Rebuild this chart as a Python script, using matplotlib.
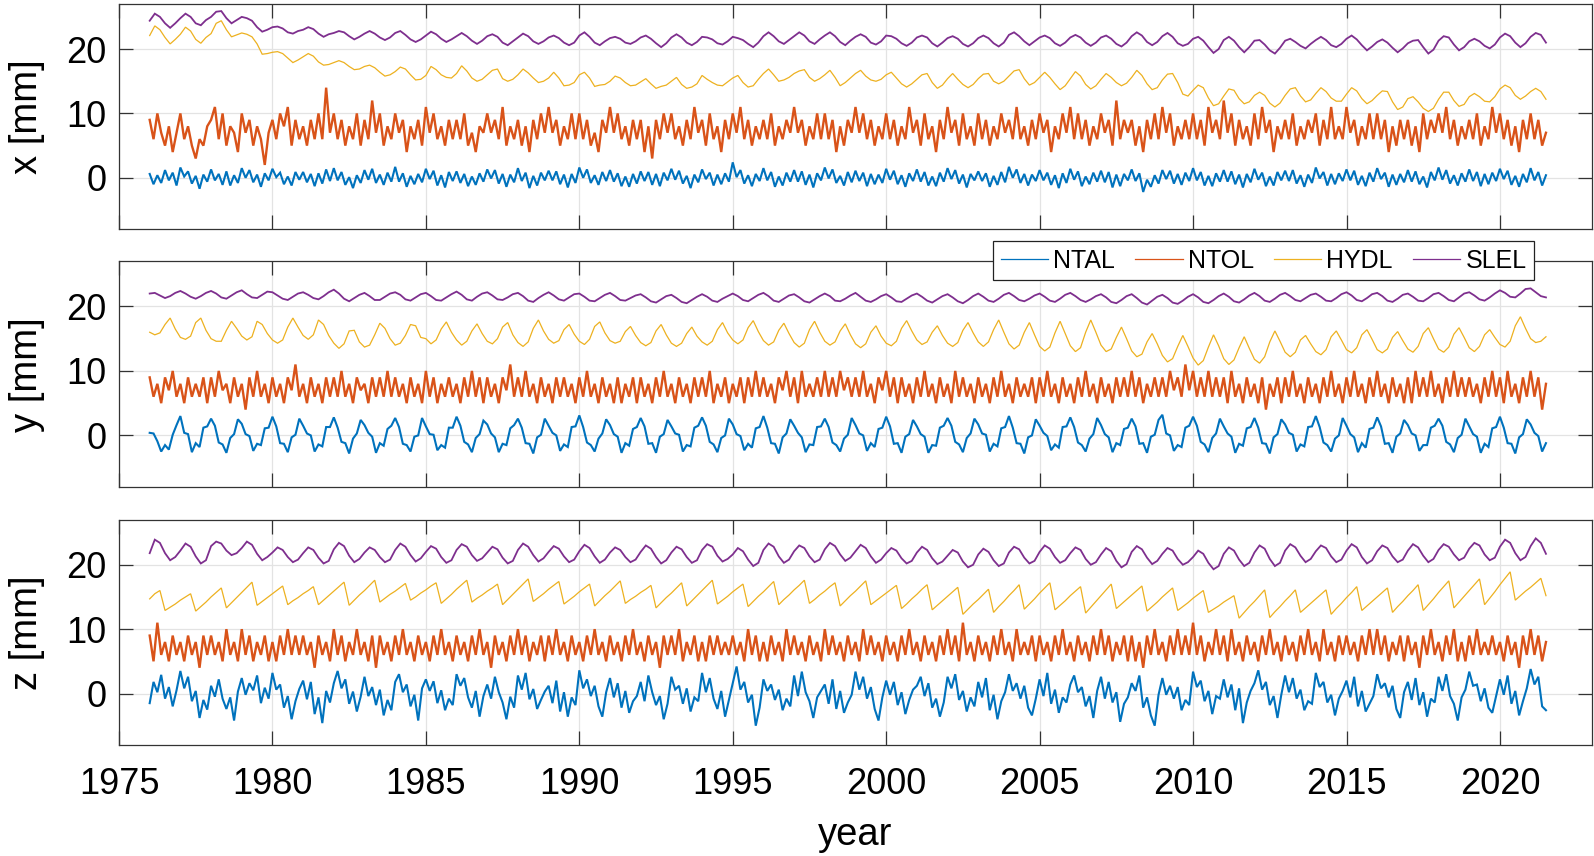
import numpy as np
import matplotlib
matplotlib.use("Agg")
import matplotlib.pyplot as plt
from matplotlib.lines import Line2D

plt.rcParams['font.family'] = ['Liberation Sans', 'DejaVu Sans']


def _vals(s):
    return np.array(s.split(), dtype=float)


# ---------------- data (mm) ----------------
SERIES = ["NTAL", "NTOL", "HYDL", "SLEL"]
COMPONENTS = ["x", "y", "z"]
START_YEAR = 1976.0
NOISY_PER_YEAR = 8      # NTAL / NTOL samples per year
SMOOTH_PER_YEAR = 6     # HYDL / SLEL samples per year
YEAR_TICKS = [1975, 1980, 1985, 1990, 1995, 2000, 2005, 2010, 2015, 2020]
MM_TICKS = [0, 10, 20]

NTAL_X = _vals("""
0.6 -1.0 0.4 -0.8 1.2 -0.4 0.8 -1.2
1.6 0.2 1.0 -0.9 0.3 -1.7 0.5 -0.6
1.3 -0.4 0.6 -1.1 1.0 -1.2 0.4 -0.8
1.5 0.0 1.2 -0.7 0.5 -1.4 0.7 -0.4
1.4 0.1 0.8 -1.0 0.2 -1.2 0.9 -0.3
0.9 -0.7 0.6 -1.3 0.7 -0.9 1.3 -0.5
1.5 -0.4 0.9 -1.1 0.1 -1.6 0.4 -0.8
1.2 -0.3 1.4 -0.8 0.5 -1.1 0.8 -0.6
1.7 -0.6 0.7 -1.4 0.3 -1.0 0.6 -0.7
1.4 -0.2 1.1 -1.2 0.4 -1.5 0.9 -0.5
1.0 -0.8 0.6 -1.3 0.2 -1.1 0.7 -0.6
1.3 -0.1 1.2 -0.9 0.6 -1.4 0.5 -0.7
1.5 -0.5 0.8 -1.6 0.3 -1.2 0.8 -0.4
1.1 -0.4 1.0 -1.0 0.5 -1.5 0.6 -0.8
1.6 0.0 1.3 -0.8 0.4 -1.1 0.9 -0.5
1.2 -0.6 0.7 -1.3 0.2 -1.4 0.6 -0.9
1.0 -0.5 0.9 -1.1 0.6 -1.3 0.8 -0.4
1.4 -0.3 1.1 -0.9 0.3 -1.6 0.5 -0.7
1.3 -0.2 0.8 -1.2 0.5 -1.0 0.7 -0.6
2.4 0.1 1.2 -0.9 0.4 -1.3 0.6 -0.5
1.5 -0.4 0.9 -1.4 0.2 -1.2 0.8 -0.6
1.2 -0.6 1.0 -1.1 0.5 -1.5 0.7 -0.4
1.6 -0.1 1.3 -0.8 0.3 -1.2 0.9 -0.7
1.1 -0.5 0.8 -1.3 0.6 -1.0 0.5 -0.8
1.4 -0.3 1.1 -1.0 0.4 -1.4 0.7 -0.5
1.3 -0.6 0.9 -1.2 0.2 -1.3 0.8 -0.6
1.5 -0.2 1.2 -0.9 0.5 -1.5 0.6 -0.4
1.0 -0.5 0.7 -1.4 0.3 -1.1 0.9 -0.7
1.7 0.0 1.3 -0.8 0.6 -1.2 0.5 -0.5
1.2 -0.4 0.8 -1.1 0.4 -1.6 0.7 -0.8
1.4 -0.3 1.0 -1.3 0.2 -1.0 0.8 -0.6
1.1 -0.7 0.9 -1.5 0.5 -1.3 0.6 -0.4
1.3 -0.5 0.7 -2.2 -0.3 -1.4 0.4 -0.9
1.2 -0.2 1.1 -0.9 0.6 -1.1 0.8 -0.5
1.5 -0.4 0.9 -1.2 0.3 -1.3 0.7 -0.6
1.2 -0.6 1.0 -1.0 0.5 -1.5 0.6 -0.7
1.4 -0.3 0.8 -1.3 0.2 -1.2 0.9 -0.4
1.1 -0.5 1.2 -0.9 0.4 -1.4 0.5 -0.8
1.6 -0.1 0.9 -1.2 0.6 -1.0 0.7 -0.5
1.3 -0.4 1.1 -1.1 0.3 -1.3 0.8 -0.6
1.5 -0.2 0.8 -1.4 0.5 -1.1 0.6 -0.7
1.2 -0.6 1.0 -1.0 0.2 -1.5 0.9 -0.4
1.6 -0.3 1.2 -0.9 0.4 -1.2 0.7 -0.6
1.3 -0.5 0.9 -1.3 0.6 -1.0 0.8 -0.5
1.4 -0.2 1.1 -1.1 0.3 -1.4 0.6 -0.7
1.5 -0.4 0.9 -1.2 0.4
""")

NTOL_X = _vals("""
9 6 10 7 5 8 4 7
10 6 8 5 3 6 5 8
9 11 6 10 5 8 7 4
10 7 9 5 8 6 2 7
9 6 10 8 11 5 9 6
8 5 9 6 10 6 14 7
10 6 9 5 8 6 10 5
9 6 12 7 10 5 8 6
10 7 9 4 8 6 9 5
11 7 10 6 8 5 9 6
9 6 10 5 7 4 8 7
10 7 9 6 11 5 8 6
9 5 8 4 9 6 10 7
11 7 9 5 8 6 10 6
10 6 9 5 7 4 9 7
11 7 10 6 8 5 9 6
9 4 8 3 9 6 10 7
10 6 8 5 9 6 11 7
9 5 10 6 8 4 9 6
10 7 11 6 9 5 8 6
9 6 10 5 8 6 9 7
11 7 9 5 8 6 10 6
10 6 9 4 8 5 9 7
11 7 10 6 9 5 8 6
10 6 9 5 8 6 11 7
9 5 10 6 8 4 9 6
11 7 9 5 10 6 8 5
10 6 9 5 8 6 10 7
9 6 11 6 8 5 9 6
10 7 9 4 8 6 10 7
11 6 10 6 9 5 8 6
10 7 9 5 12 6 9 7
9 5 8 4 9 6 10 6
11 7 10 5 8 6 9 6
10 6 9 5 11 7 9 6
12 7 10 5 9 6 8 5
10 6 11 7 9 4 8 6
9 6 10 5 8 6 9 7
10 5 9 6 11 6 8 6
11 7 9 5 8 6 10 6
10 6 9 4 8 5 9 6
9 5 8 4 10 6 9 7
10 7 11 6 9 5 8 6
9 6 10 5 8 6 11 7
10 6 9 5 8 4 9 6
10 6 9 5 7
""")

HYDL_X = _vals("""
22.1 23.6 23.0 21.8 20.8 21.5
22.3 23.4 22.8 21.5 20.9 21.8
22.4 24.0 24.4 23.0 21.9 22.2
22.5 22.3 21.9 20.8 19.2 19.3
19.5 19.6 19.3 18.6 17.9 18.3
18.8 19.3 18.9 18.0 17.5 17.6
17.9 18.2 17.9 17.3 16.8 16.9
17.3 17.5 17.1 16.4 15.8 16.0
16.5 17.2 16.9 16.0 15.2 15.3
15.9 17.3 16.8 16.0 15.6 15.5
16.2 17.4 16.6 15.5 15.0 15.3
16.0 16.7 16.9 15.4 15.0 15.3
16.0 16.9 16.3 15.5 14.8 15.0
15.5 16.4 15.5 14.3 14.4 14.8
16.0 16.4 15.5 14.2 14.4 14.5
15.0 15.8 15.5 14.8 14.3 14.4
14.9 15.4 14.6 13.9 14.2 14.4
15.0 15.6 14.5 13.9 14.1 14.6
15.9 15.3 14.8 14.4 14.3 14.9
15.5 15.9 14.8 14.1 14.3 15.3
16.2 16.9 16.0 15.0 15.2 15.6
16.2 16.6 16.8 15.6 15.0 15.4
16.0 16.7 15.6 14.3 14.8 15.5
16.2 16.7 15.8 15.2 15.0 15.3
16.0 16.4 15.5 14.6 14.1 14.6
15.3 16.0 16.2 14.8 13.9 14.4
15.4 16.2 15.3 14.5 14.0 14.5
15.4 16.1 16.2 15.0 14.6 15.0
15.8 16.6 16.8 15.4 14.4 14.8
15.6 16.4 15.6 14.6 13.7 14.3
15.4 16.5 15.8 14.5 13.8 14.3
15.3 16.2 15.6 14.8 14.3 14.7
15.6 16.7 15.9 14.6 13.7 14.0
15.2 16.1 16.2 14.8 13.0 12.7
13.6 14.4 14.0 12.4 11.2 11.5
12.7 13.8 13.6 12.3 11.5 11.8
12.8 13.3 12.8 11.6 11.0 11.6
12.8 13.8 14.0 12.7 11.8 12.1
13.1 14.0 13.4 12.4 11.9 11.9
13.0 14.0 13.5 12.3 11.5 12.0
12.8 13.5 13.4 11.8 10.6 11.0
12.3 12.6 11.8 10.8 10.3 10.8
12.2 13.3 13.3 12.0 11.1 11.4
12.6 13.1 12.6 11.9 11.8 12.6
13.8 14.4 14.0 12.8 12.2 12.7
13.4 13.9 13.4 12.2
""")

SLEL_X = _vals("""
24.4 25.5 25.0 24.0 23.3 24.0
24.8 25.5 25.0 24.0 23.7 24.5
25.0 25.8 25.9 24.8 24.0 24.5
25.0 24.8 24.4 23.4 22.7 23.0
23.4 23.5 23.2 22.6 22.4 22.8
23.0 23.4 23.1 22.4 21.9 22.3
22.5 22.8 22.6 22.0 21.5 21.9
22.4 22.8 22.4 21.8 21.4 21.8
22.5 22.8 22.2 21.5 21.1 21.5
22.1 22.7 22.3 21.6 21.1 21.5
22.0 22.5 22.0 21.3 20.8 21.3
22.0 22.3 21.9 21.0 20.6 21.2
21.8 22.4 22.0 21.2 20.8 21.2
21.8 22.1 21.7 21.0 20.6 21.0
22.1 22.6 21.9 21.0 20.6 21.2
21.7 21.9 21.6 21.0 20.8 21.2
21.8 22.1 21.6 20.9 20.3 20.9
21.8 22.3 21.8 21.0 20.6 21.1
21.9 21.8 21.5 20.9 20.7 21.2
21.9 21.7 21.4 20.8 20.3 21.0
22.0 22.6 22.0 21.2 20.8 21.4
22.0 22.6 22.1 21.2 20.8 21.5
22.1 22.6 22.0 21.1 20.6 21.3
21.9 22.3 21.9 21.0 20.7 21.2
22.1 22.0 21.6 20.9 20.5 21.0
21.8 22.1 21.8 20.9 20.4 21.0
21.7 22.0 21.6 20.8 20.4 20.9
21.7 22.1 21.7 20.9 20.4 21.0
22.2 22.6 22.0 21.2 20.6 21.2
21.8 22.1 21.7 20.9 20.5 21.0
21.8 22.2 21.8 21.0 20.5 21.0
21.8 22.1 21.6 20.8 20.4 21.0
22.0 22.6 22.1 21.1 20.6 21.1
22.0 22.5 21.9 20.9 20.5 20.8
21.6 21.9 21.3 20.3 19.4 20.0
21.4 21.9 21.3 20.3 19.5 20.3
21.3 21.4 20.7 19.8 19.3 20.2
21.3 21.6 21.1 20.5 20.1 20.8
21.4 21.9 21.4 20.6 20.3 20.8
21.6 22.1 21.5 20.6 19.8 20.4
21.1 21.5 21.0 20.2 19.5 20.1
20.9 21.3 21.4 20.3 19.3 19.9
21.3 22.0 21.8 20.7 19.8 20.3
21.2 21.6 21.2 20.5 20.1 20.7
21.8 22.4 22.0 21.0 20.3 20.9
21.9 22.5 22.2 21.0
""")

NTAL_Y = _vals("""
0.4 0.3 -0.9 -2.5 -1.5 -2.2 0.1 1.6
3.0 0.4 0.2 -2.6 -1.2 -1.8 1.2 1.4
2.6 1.5 -1.1 -1.4 -2.7 -0.4 0.2 2.5
1.8 0.2 -0.1 -2.4 -1.3 -1.5 1.1 1.2
2.9 1.4 -1.2 -1.3 -2.6 -0.3 0.1 2.6
1.5 0.3 0.0 -2.5 -1.4 -1.7 1.3 1.3
2.8 1.2 -1.0 -1.2 -2.8 -0.5 0.3 2.4
1.6 0.4 -0.2 -2.7 -1.2 -1.6 1.0 1.5
2.7 1.3 -1.3 -1.5 -2.5 -0.2 0.0 2.7
1.4 0.2 0.1 -2.3 -1.5 -1.9 1.2 1.2
2.9 1.5 -1.0 -1.4 -2.6 -0.4 0.2 2.3
1.7 0.3 -0.3 -2.6 -1.3 -1.5 1.1 1.6
2.6 1.2 -1.2 -1.3 -2.8 -0.3 0.1 2.6
1.5 0.4 0.0 -2.4 -1.4 -1.8 1.3 1.4
3.1 1.3 -1.1 -1.5 -2.5 -0.5 0.3 2.5
1.6 0.2 -0.2 -2.7 -1.2 -1.6 1.0 1.3
2.7 1.4 -1.3 -1.2 -2.7 -0.2 0.2 2.4
1.4 0.3 0.1 -2.5 -1.5 -1.7 1.2 1.5
2.8 1.5 -1.0 -1.4 -2.6 -0.4 0.0 2.6
1.7 0.2 -0.1 -2.3 -1.3 -1.9 1.1 1.3
3.0 1.2 -1.2 -1.3 -2.8 -0.3 0.3 2.5
1.5 0.4 -0.3 -2.6 -1.4 -1.5 1.3 1.4
2.6 1.3 -1.1 -1.5 -2.5 -0.5 0.1 2.7
1.6 0.3 0.0 -2.4 -1.2 -1.8 1.0 1.2
2.9 1.4 -1.3 -1.2 -2.7 -0.2 0.2 2.4
1.4 0.2 -0.2 -2.7 -1.5 -1.6 1.2 1.5
2.7 1.5 -1.0 -1.4 -2.6 -0.4 0.3 2.6
1.7 0.3 0.1 -2.5 -1.3 -1.7 1.1 1.3
3.0 1.2 -1.2 -1.3 -2.8 -0.3 0.0 2.5
1.5 0.4 -0.1 -2.3 -1.4 -1.9 1.3 1.4
2.8 1.3 -1.1 -1.5 -2.5 -0.5 0.2 2.7
1.6 0.2 -0.3 -2.6 -1.2 -1.5 1.0 1.2
2.6 1.4 -1.3 -1.2 -2.7 -0.2 0.1 2.4
3.2 0.3 0.0 -2.4 -1.5 -1.8 1.2 1.5
2.9 1.5 -1.0 -1.4 -2.6 -0.4 0.3 2.6
1.4 0.3 -0.2 -2.7 -1.3 -1.6 1.1 1.3
2.7 1.2 -1.2 -1.3 -2.8 -0.3 0.2 2.5
1.7 0.4 0.1 -2.5 -1.4 -1.7 1.3 1.4
3.0 1.3 -1.1 -1.5 -2.5 -0.5 0.0 2.7
1.5 0.2 -0.3 -2.6 -1.2 -1.9 1.0 1.2
2.8 1.4 -1.3 -1.2 -2.7 -0.2 0.3 2.4
1.6 0.3 0.0 -2.4 -1.5 -1.5 1.2 1.5
2.6 1.5 -1.0 -1.4 -2.6 -0.4 0.1 2.6
1.4 0.2 -0.2 -2.7 -1.3 -1.8 1.1 1.3
2.9 1.2 -1.2 -1.3 -2.8 -0.3 0.2 2.5
1.7 0.4 -0.1 -2.5 -1.2
""")

NTOL_Y = _vals("""
9 6 8 5 9 7 10 6
8 5 9 6 8 6 9 5
9 6 10 7 8 5 9 6
8 4 9 6 10 6 8 5
9 6 8 5 9 7 11 6
8 5 9 6 8 5 9 6
9 6 10 6 8 5 9 7
8 5 9 6 9 6 10 6
9 6 8 5 9 6 8 5
10 6 9 5 8 6 9 6
8 5 9 6 10 6 9 5
9 6 8 5 9 7 11 6
9 6 10 6 8 5 9 6
8 5 9 6 9 6 8 5
9 6 10 6 8 5 9 6
8 5 9 5 8 6 9 5
9 6 8 5 9 6 10 6
8 5 9 6 8 5 9 6
9 6 10 5 8 6 9 5
8 6 9 5 9 6 10 6
9 6 8 5 9 7 10 6
9 5 10 6 8 6 9 6
10 6 9 6 10 7 9 6
9 6 10 6 8 5 9 7
10 6 9 5 9 6 8 5
9 6 10 6 8 5 9 6
8 5 10 6 9 6 8 5
9 6 8 5 9 6 10 6
8 5 9 6 8 6 9 5
9 6 10 6 8 5 9 6
8 5 9 6 10 6 8 5
9 6 8 5 9 6 9 6
10 6 9 5 8 6 9 6
9 6 10 7 9 6 11 7
10 6 9 6 10 6 9 6
9 5 10 6 8 5 9 6
8 5 9 4 8 6 9 5
9 6 10 6 8 5 9 6
8 5 9 6 10 6 8 5
9 6 10 6 8 5 9 6
10 6 8 5 9 6 8 5
9 5 10 6 9 6 10 6
8 5 9 6 10 6 9 6
9 6 8 5 9 6 10 6
9 5 10 6 8 5 9 6
10 6 9 4 8
""")

HYDL_Y = _vals("""
16.0 15.6 15.9 17.2 18.2 16.5
15.2 14.9 15.4 17.5 18.2 16.3
15.0 14.6 14.6 16.3 17.7 16.6
15.4 14.8 15.3 17.7 17.2 15.8
14.8 14.3 14.8 16.8 18.2 16.8
15.5 14.9 15.6 17.9 17.2 15.5
14.3 13.5 14.2 16.2 16.3 14.5
13.7 14.0 15.6 17.4 16.6 15.0
14.0 14.3 15.5 17.2 17.0 15.2
15.0 14.2 14.8 16.5 17.6 16.0
14.8 14.0 14.6 16.2 17.3 15.8
14.6 14.2 15.0 16.8 17.5 15.6
14.4 13.8 14.5 16.6 17.9 16.2
14.9 14.3 14.7 16.4 17.2 15.7
14.6 14.1 14.9 16.9 17.6 15.9
14.7 14.3 14.6 16.1 16.9 15.5
14.4 13.9 14.4 16.2 17.2 15.6
14.3 13.8 14.3 15.8 16.8 15.4
14.5 14.0 14.6 16.4 17.5 15.9
14.8 14.2 14.8 16.7 17.8 16.1
14.7 14.0 14.5 16.3 17.4 15.8
14.4 13.7 14.3 16.4 17.7 16.0
14.6 14.0 14.5 16.2 17.3 15.6
14.2 13.6 14.2 16.0 17.0 15.4
14.3 13.9 14.6 16.6 17.8 16.2
14.8 14.1 14.5 16.0 17.0 15.5
14.3 13.8 14.4 16.3 17.5 15.9
14.5 13.8 14.5 16.4 17.9 16.0
14.2 13.4 14.0 16.0 17.5 15.6
13.8 13.1 13.7 15.9 17.7 15.8
13.9 13.0 13.6 16.0 17.9 16.0
14.0 13.0 13.4 15.2 16.8 15.0
13.1 12.2 12.6 14.5 15.8 14.2
12.4 11.4 11.9 13.8 15.5 13.8
12.0 10.9 11.6 13.7 15.6 13.9
11.9 11.0 11.7 13.6 15.3 13.5
11.8 11.2 12.2 14.5 16.2 14.6
12.9 12.2 12.9 14.8 15.5 14.2
13.0 12.5 13.3 15.3 16.2 14.8
13.3 12.8 13.6 15.6 16.4 14.9
13.3 12.8 13.4 15.2 16.1 14.7
13.4 12.9 13.8 15.8 16.7 15.0
13.4 12.9 13.7 15.7 16.7 15.2
13.6 13.0 13.8 15.6 16.4 15.2
14.1 13.7 14.6 17.0 18.4 16.6
15.0 14.4 14.6 15.3
""")

SLEL_Y = _vals("""
22.0 22.1 21.7 21.3 21.6 22.1
22.4 22.0 21.5 21.2 21.6 22.1
22.4 22.0 21.4 21.2 21.7 22.2
22.5 21.9 21.4 21.3 21.8 22.3
22.2 21.7 21.2 21.0 21.5 22.0
22.2 21.8 21.3 21.1 21.6 22.2
22.6 22.0 21.2 20.8 21.3 21.8
22.1 21.6 21.0 21.0 21.5 22.0
22.2 21.8 21.1 20.9 21.4 21.9
22.1 21.6 21.0 20.9 21.4 21.9
22.3 21.8 21.1 20.9 21.5 22.0
22.2 21.7 21.1 21.0 21.4 21.9
22.1 21.6 20.9 20.7 21.3 21.8
22.2 21.7 21.1 20.9 21.4 21.9
22.0 21.5 20.9 20.8 21.3 21.8
22.1 21.6 21.0 20.9 21.3 21.7
21.9 21.4 20.8 20.6 21.1 21.6
21.8 21.3 20.7 20.5 21.0 21.5
21.9 21.5 20.9 20.7 21.2 21.6
22.0 21.6 21.0 20.8 21.3 21.8
22.1 21.6 20.9 20.7 21.2 21.7
21.9 21.4 20.8 20.6 21.1 21.6
22.0 21.6 20.9 20.8 21.2 21.7
22.1 21.5 20.9 20.7 21.1 21.6
21.9 21.4 20.8 20.7 21.2 21.7
22.0 21.5 20.9 20.6 21.1 21.6
21.9 21.4 20.8 20.5 21.0 21.6
22.0 21.5 20.9 20.7 21.2 21.8
22.1 21.6 21.0 20.8 21.2 21.7
22.0 21.5 20.9 20.7 21.2 21.8
22.1 21.6 21.0 20.7 21.1 21.6
21.9 21.4 20.7 20.5 21.0 21.6
21.9 21.3 20.6 20.3 20.9 21.5
21.8 21.3 20.6 20.4 20.9 21.5
21.9 21.4 20.7 20.5 21.0 21.6
22.0 21.5 20.8 20.6 21.1 21.7
22.1 21.6 20.9 20.7 21.2 21.8
22.1 21.6 21.0 20.8 21.3 21.8
22.0 21.5 20.9 20.8 21.3 21.9
22.2 21.7 21.0 20.8 21.3 21.9
22.1 21.6 20.9 20.7 21.2 21.8
22.0 21.5 20.9 20.8 21.3 21.9
22.1 21.6 21.0 20.8 21.4 22.0
22.2 21.7 21.1 20.9 21.4 22.0
22.5 22.1 21.5 21.4 22.0 22.7
22.8 22.2 21.6 21.4
""")

NTAL_Z = _vals("""
-1.5 1.8 0.2 2.9 -0.8 1.0 -2.0 0.5
3.5 0.8 2.6 -1.2 0.4 -3.8 -1.0 -2.5
1.2 -0.5 2.2 -0.8 -2.4 -0.6 -4.2 0.3
2.4 -0.2 1.6 0.5 2.8 -1.5 0.9 -0.8
3.2 0.6 1.4 -2.2 -0.4 -4.0 -1.2 0.7
2.0 -0.9 1.8 -3.2 -0.6 -4.6 0.4 -1.4
1.6 3.5 0.8 2.2 -1.6 0.3 -2.8 -0.5
2.6 -0.4 1.0 -1.8 0.6 -3.4 -1.0 -2.6
1.8 3.0 0.2 1.4 -2.0 -0.2 -4.2 0.8
2.2 0.4 1.9 -1.5 0.5 -2.6 -0.8 -1.8
3.0 1.2 2.4 -0.6 -2.2 0.4 -3.6 -0.4
1.4 -0.8 2.6 0.2 -1.4 -4.0 -0.5 -2.2
2.8 0.6 3.2 -0.9 0.7 -2.4 -1.0 0.3
1.2 -1.5 2.0 -2.8 0.2 -3.6 -0.6 -1.8
3.6 0.8 2.2 -0.4 1.2 -2.0 -3.6 0.2
2.4 -0.6 1.6 -2.2 0.4 -3.0 -1.2 -0.4
1.8 -1.2 2.8 0.2 -1.8 -0.4 -4.0 -1.6
2.6 0.6 1.2 -1.6 0.8 -2.8 -0.6 -1.2
3.2 0.2 2.4 -0.8 -2.4 0.4 -3.6 -1.0
1.6 4.2 0.6 1.8 -1.4 -0.2 -5.0 -2.2
2.2 0.4 1.4 -1.0 0.6 -2.6 -0.8 -2.0
2.8 -0.4 3.4 0.2 -1.2 -3.8 -0.6 0.4
1.4 -1.6 2.2 -2.4 0.4 -3.0 -1.4 -0.2
3.4 0.6 2.6 -0.8 1.0 -2.4 -4.2 -0.6
2.0 -0.2 1.8 -1.8 0.2 -3.2 -1.0 0.6
1.2 2.6 -0.4 1.6 -2.2 -0.8 -3.6 -1.4
2.6 0.8 3.0 -1.0 0.4 -2.8 -0.6 -2.0
1.8 -0.6 2.4 -2.6 -0.2 -4.0 -1.2 0.2
3.0 0.4 1.6 -0.8 1.2 -2.2 -3.4 -0.8
2.2 -0.4 3.2 -1.6 0.6 -3.0 -0.6 -1.4
1.4 2.8 0.2 1.0 -2.0 -0.4 -3.8 0.4
2.6 -0.8 1.8 -1.4 0.2 -4.4 -1.6 -0.6
1.6 0.4 2.8 -2.2 -0.6 -3.4 -5.0 -0.2
2.4 -0.2 1.2 -0.8 1.0 -2.6 -1.0 -1.8
3.4 1.0 2.0 -1.2 0.4 -3.2 -0.4 -0.8
2.2 -0.6 1.4 -2.6 0.8 -4.6 -1.4 0.4
1.6 3.6 0.6 1.8 -1.8 -0.4 -3.8 -0.2
2.8 0.2 2.4 -0.8 0.6 -2.6 -1.2 -1.6
3.2 1.0 1.8 -1.4 -0.2 -3.4 -0.8 0.4
2.0 -0.6 2.6 -2.0 0.4 -2.8 -1.6 -0.4
3.0 0.8 1.6 -0.6 1.2 -2.4 -3.8 0.2
1.8 -1.0 2.4 -1.8 0.2 -3.6 -0.8 -1.4
2.6 0.4 3.0 -0.4 -1.6 -4.2 -0.6 0.6
3.4 1.2 1.4 -1.2 0.8 -2.2 -3.0 -0.4
2.2 -0.2 2.8 -1.6 0.4 -3.4 -1.2 0.8
3.8 1.4 2.6 -2.0 -2.6
""")

NTOL_Z = _vals("""
9 5 11 6 8 5 9 6
8 5 9 6 8 4 9 6
9 6 8 5 10 6 8 5
10 6 9 5 8 6 9 5
8 5 9 6 10 6 9 6
9 6 8 4 9 6 8 5
10 6 9 5 8 6 10 6
8 5 9 4 9 6 8 5
9 6 10 6 8 5 9 6
8 5 9 6 10 6 8 5
9 6 8 5 9 6 10 6
8 4 9 6 8 5 9 6
10 6 9 5 8 6 9 5
9 6 10 6 8 5 9 6
8 5 9 6 10 6 8 5
9 6 8 5 9 6 10 6
8 5 9 6 8 4 9 6
9 6 10 5 8 6 9 5
8 5 9 6 9 6 8 6
9 6 8 5 10 6 9 5
8 5 9 6 8 5 10 6
9 6 8 5 9 6 8 5
10 6 9 6 8 5 9 6
8 5 10 6 9 6 8 5
9 6 8 5 9 6 10 6
8 5 9 6 8 5 9 6
10 6 9 5 11 6 8 5
9 6 8 5 9 6 10 6
8 5 10 6 8 6 9 5
9 6 8 5 9 6 10 6
8 5 9 6 8 5 9 6
10 6 9 5 8 6 9 5
9 5 8 4 9 6 10 6
8 5 9 6 10 6 9 6
11 6 9 5 8 6 10 6
9 5 10 6 8 5 9 6
8 5 9 6 10 6 8 5
9 6 8 5 9 6 10 6
8 5 10 6 8 5 9 6
9 6 8 5 9 6 10 6
10 6 9 5 8 6 9 5
9 6 8 4 9 6 10 6
8 5 9 6 10 5 8 5
9 6 10 6 8 6 9 6
8 5 9 6 8 4 9 6
10 6 9 5 8
""")

HYDL_Z = _vals("""
14.7 15.5 16.0 12.9 13.4 13.9
14.5 15.0 15.5 12.8 13.5 14.2
15.0 15.7 16.4 13.3 14.1 14.9
15.7 16.5 17.3 13.7 14.3 14.9
15.5 16.1 16.7 13.8 14.4 14.9
15.5 16.0 16.6 13.8 14.5 15.2
15.9 16.6 17.3 13.7 14.5 15.3
16.0 16.8 17.6 14.2 14.8 15.4
15.9 16.5 17.1 14.5 15.0 15.6
16.1 16.7 17.2 14.0 14.7 15.4
16.2 16.9 17.6 14.2 14.8 15.3
15.9 16.4 17.0 13.8 14.6 15.4
16.2 17.0 17.8 14.3 14.9 15.5
16.2 16.8 17.4 13.9 14.5 15.1
15.8 16.4 17.0 13.6 14.4 15.2
15.9 16.7 17.5 14.0 14.6 15.1
15.7 16.2 16.8 13.3 14.1 14.9
15.6 16.4 17.2 13.6 14.4 15.2
16.0 16.8 17.6 13.9 14.5 15.1
15.8 16.4 17.0 13.5 14.3 15.1
15.8 16.6 17.4 13.8 14.6 15.3
16.1 16.8 17.6 14.0 14.6 15.3
15.9 16.6 17.2 13.6 14.4 15.2
15.9 16.7 17.5 13.8 14.4 15.0
15.6 16.2 16.8 13.2 13.9 14.7
15.4 16.2 16.9 13.0 13.7 14.4
15.1 15.8 16.5 12.3 13.1 13.9
14.6 15.4 16.2 12.6 13.5 14.3
15.2 16.0 16.9 13.1 13.9 14.7
15.6 16.4 17.2 13.0 13.7 14.4
15.2 15.9 16.6 12.5 13.4 14.3
15.2 16.1 17.0 13.2 13.9 14.6
15.3 16.0 16.7 12.8 13.5 14.2
15.0 15.7 16.4 12.9 13.5 14.1
14.8 15.4 16.0 12.6 13.1 13.6
14.2 14.7 15.2 11.7 12.6 13.5
14.3 15.2 16.1 11.8 12.7 13.5
14.4 15.2 16.1 12.6 13.3 14.0
14.7 15.4 16.1 12.3 13.2 14.0
14.9 15.7 16.6 12.9 13.6 14.3
15.0 15.7 16.4 12.6 13.5 14.3
15.2 16.0 16.9 12.9 13.8 14.7
15.7 16.6 17.5 13.3 14.2 15.1
16.0 16.9 17.8 13.8 14.8 15.8
16.9 17.9 18.9 14.5 15.2 15.9
16.5 17.2 17.9 15.2
""")

SLEL_Z = _vals("""
21.8 23.9 23.4 21.8 20.7 21.2
22.2 23.3 22.8 21.3 20.2 20.7
22.9 23.6 23.3 22.2 21.5 21.8
22.6 23.6 23.1 21.7 20.7 21.2
21.9 22.7 22.3 21.2 20.4 20.8
21.8 22.7 22.3 21.1 20.2 20.6
22.4 23.4 22.9 21.4 20.4 20.9
21.9 22.7 22.3 21.2 20.4 20.8
22.3 23.3 22.8 21.5 20.5 21.0
22.0 22.9 22.5 21.2 20.3 20.7
22.3 23.2 22.8 21.5 20.6 21.0
21.9 22.8 22.4 21.1 20.2 20.6
22.3 23.3 22.8 21.5 20.5 21.0
22.0 22.9 22.5 21.3 20.4 20.8
22.1 23.1 22.6 21.3 20.3 20.8
21.9 22.7 22.3 21.2 20.4 20.8
22.0 23.0 22.5 21.2 20.2 20.7
21.9 22.8 22.4 21.2 20.3 20.7
22.3 23.2 22.8 21.4 20.5 20.9
21.6 22.6 22.1 20.8 19.8 20.3
22.3 23.3 22.8 21.3 20.3 20.8
22.1 23.0 22.6 21.3 20.4 20.8
22.4 23.4 22.9 21.6 20.6 21.1
22.1 23.1 22.6 21.3 20.3 20.8
21.8 22.6 22.2 21.0 20.2 20.6
21.9 22.8 22.3 21.0 20.1 20.5
21.4 22.3 21.9 20.5 19.6 20.0
21.6 22.5 22.0 20.7 19.8 20.2
21.9 22.8 22.4 21.1 20.2 20.6
22.0 23.0 22.5 21.2 20.3 20.7
21.8 22.7 22.3 20.9 20.0 20.4
21.6 22.6 22.1 20.6 19.6 20.1
22.0 22.9 22.4 21.1 20.1 20.6
21.7 22.6 22.2 20.9 20.0 20.4
21.2 22.2 21.7 20.3 19.3 19.8
21.7 22.7 22.2 20.8 19.8 20.3
21.9 23.0 22.5 20.9 19.8 20.3
22.2 23.2 22.7 21.4 20.4 20.9
22.1 23.0 22.6 21.3 20.4 20.8
22.2 23.2 22.7 21.2 20.2 20.7
22.1 23.0 22.6 21.3 20.4 20.8
22.2 23.2 22.7 21.4 20.4 20.9
22.3 23.2 22.8 21.6 20.7 21.1
22.5 23.4 23.0 21.6 20.7 21.1
22.8 23.9 23.4 21.8 20.7 21.2
22.9 24.1 23.4 21.7
""")

DATA = {
    "x": [NTAL_X, NTOL_X, HYDL_X, SLEL_X],
    "y": [NTAL_Y, NTOL_Y, HYDL_Y, SLEL_Y],
    "z": [NTAL_Z, NTOL_Z, HYDL_Z, SLEL_Z],
}

# ---------------- styling ----------------
COLORS = ["#0072BD", "#D95319", "#EDB120", "#7E2F8E"]
PER_YEAR = [NOISY_PER_YEAR, NOISY_PER_YEAR, SMOOTH_PER_YEAR, SMOOTH_PER_YEAR]
LINE_W = [1.5, 1.7, 0.9, 1.3]
AX_COLOR = "#333333"

W, H = 1594, 856
fig = plt.figure(figsize=(W / 100, H / 100), dpi=100)

left_px, right_px = 119, 1592
panels_px = [(4, 229.3), (261.3, 487), (519.7, 745)]

axes = []
for i, (comp, (top, bot)) in enumerate(zip(COMPONENTS, panels_px)):
    ax = fig.add_axes([left_px / W, 1 - bot / H, (right_px - left_px) / W, (bot - top) / H])
    for name, vals, col, py, lw in zip(SERIES, DATA[comp], COLORS, PER_YEAR, LINE_W):
        t = START_YEAR + np.arange(len(vals)) / py
        ax.plot(t, vals, color=col, lw=lw, label=name, solid_joinstyle="miter")
    ax.set_xlim(1975, 2023)
    ax.set_ylim(-8, 27)
    ax.set_xticks(YEAR_TICKS)
    ax.set_yticks(MM_TICKS)
    ax.grid(True, color="#e3e3e3", linewidth=0.9)
    ax.set_axisbelow(True)
    for s in ax.spines.values():
        s.set_color(AX_COLOR)
        s.set_linewidth(0.9)
    ax.tick_params(axis="both", which="both", direction="in", top=True, right=True,
                   length=10, width=0.9, color=AX_COLOR, labelsize=26, labelcolor="black")
    ax.tick_params(axis="y", pad=9)
    ax.tick_params(axis="x", pad=16)
    ax.set_ylabel(f"{comp} [mm]", fontsize=27.5)
    ax.yaxis.set_label_coords(-0.05, 0.5)
    if i < 2:
        ax.tick_params(axis="x", labelbottom=False)
    axes.append(ax)

ax3 = axes[2]
ax3.set_xlabel("year", fontsize=27.5)
ax3.xaxis.set_label_coords(0.5, -0.32)

ax2 = axes[1]
proxies = [Line2D([], [], color=c, lw=0.9) for c in COLORS]
leg = ax2.legend(handles=proxies, labels=SERIES, ncol=4, loc="upper right",
                 bbox_to_anchor=(1534 / W, 1 - 241 / H), bbox_transform=fig.transFigure,
                 fontsize=18, frameon=True, fancybox=False, framealpha=1.0,
                 edgecolor="#222222", handlelength=1.9, handletextpad=0.2,
                 columnspacing=0.8, borderpad=0.3, borderaxespad=0.0)
leg.get_frame().set_linewidth(0.9)
leg.set_zorder(10)

fig.savefig("out.png", dpi=100)
